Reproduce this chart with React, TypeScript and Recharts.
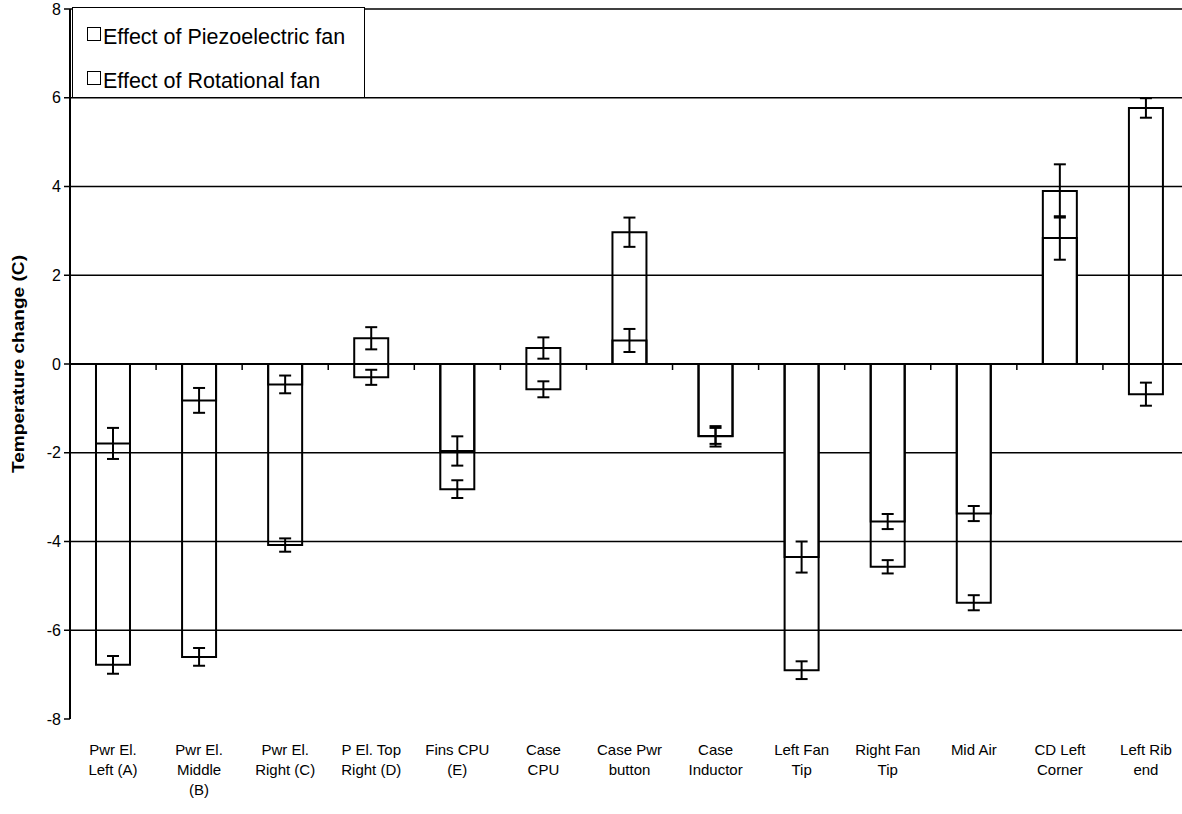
import React from 'react'
import { BarChart, Bar, XAxis, YAxis, CartesianGrid, ErrorBar, ReferenceLine, Legend } from 'recharts'

const FONT = '"Liberation Sans", Arial, Helvetica, sans-serif'

const categories = [
  'Pwr El.\nLeft (A)',
  'Pwr El.\nMiddle\n(B)',
  'Pwr El.\nRight (C)',
  'P El. Top\nRight (D)',
  'Fins CPU\n(E)',
  'Case\nCPU',
  'Case Pwr\nbutton',
  'Case\nInductor',
  'Left Fan\nTip',
  'Right Fan\nTip',
  'Mid Air',
  'CD Left\nCorner',
  'Left Rib\nend',
]

const piezoValues = [-6.78, -6.6, -4.08, 0.58, -2.82, 0.36, 2.97, -1.63, -6.9, -4.57, -5.38, 3.9, 5.77]
const piezoErrors = [0.2, 0.2, 0.15, 0.25, 0.2, 0.24, 0.33, 0.23, 0.2, 0.15, 0.17, 0.6, 0.22]
const rotationalValues = [-1.79, -0.82, -0.46, -0.3, -1.96, -0.57, 0.53, -1.62, -4.35, -3.55, -3.37, 2.84, -0.68]
const rotationalErrors = [0.35, 0.28, 0.2, 0.17, 0.33, 0.18, 0.26, 0.18, 0.35, 0.17, 0.17, 0.49, 0.26]

const seriesNames = ['Effect of Piezoelectric fan', 'Effect of Rotational fan']
const yTicks = [-8, -6, -4, -2, 0, 2, 4, 6, 8]
const gridValues = [-6, -4, -2, 2, 4, 6, 8]

const data = categories.map((name, i) => ({
  name,
  piezo: piezoValues[i],
  piezoErr: piezoErrors[i],
  rot: rotationalValues[i],
  rotErr: rotationalErrors[i],
}))

function CategoryTick({ x, y, payload }: any) {
  const lines = String(payload.value).split('\n')
  return (
    <text x={x} y={y} textAnchor="middle" fontSize={15} fontFamily={FONT} fill="#000">
      {lines.map((l, i) => (
        <tspan key={i} x={x} dy={i === 0 ? 36 : 20}>{l}</tspan>
      ))}
    </text>
  )
}

function ValueTick({ x, y, payload }: any) {
  return (
    <text x={x} y={y} textAnchor="end" dominantBaseline="central" fontSize={16} fontFamily={FONT} fill="#000">
      {payload.value}
    </text>
  )
}

// zero line acts as the category axis, with ticks between categories
function ZeroAxis(props: any) {
  const { x1, y1, x2 } = props
  const step = (x2 - x1) / categories.length
  return (
    <g>
      <line x1={x1} y1={y1} x2={x2} y2={y1} stroke="#000" strokeWidth={2} />
      {categories.slice(1).map((_, i) => {
        const x = x1 + step * (i + 1)
        return <line key={i} x1={x} x2={x} y1={y1} y2={y1 + 6} stroke="#000" strokeWidth={1.5} />
      })}
    </g>
  )
}

function YTitle({ viewBox }: any) {
  const cx = viewBox.x + 18
  const cy = viewBox.y + viewBox.height / 2
  return (
    <text x={cx} y={cy} transform={`rotate(-90 ${cx} ${cy})`} textAnchor="middle"
      dominantBaseline="central" fontSize={16} fontWeight="bold" fontFamily={FONT} fill="#000"
      textLength={218} lengthAdjust="spacingAndGlyphs">
      Temperature change (C)
    </text>
  )
}

function LegendBox() {
  return (
    <div style={{
      width: 293, height: 91, boxSizing: 'border-box', border: '1.5px solid #000',
      background: '#fff', fontFamily: FONT, fontSize: 21.5, color: '#000', paddingTop: 7, paddingLeft: 14,
    }}>
      {seriesNames.map(n => (
        <div key={n} style={{ display: 'flex', alignItems: 'center', height: 44, whiteSpace: 'nowrap' }}>
          <span style={{ width: 14, height: 14, flex: 'none', boxSizing: 'border-box', border: '1.5px solid #000', marginRight: 2, marginTop: -6 }} />
          <span>{n}</span>
        </div>
      ))}
    </div>
  )
}

export default function App() {
  return (
    <div style={{ position: 'absolute', left: 0, top: 0, width: 1182, height: 814, overflow: 'hidden', background: '#fff' }}>
      <BarChart width={1189} height={814} data={data} barCategoryGap="30.2%"
        margin={{ top: 9, right: 0, bottom: 0, left: 0 }}>
        <CartesianGrid xAxisId="a" horizontalValues={gridValues} vertical={false} stroke="#000" strokeWidth={1.5} />
        <XAxis xAxisId="a" dataKey="name" interval={0} height={95} axisLine={false} tickLine={false}
          tickSize={0} tickMargin={0} tick={<CategoryTick />} />
        <XAxis xAxisId="b" dataKey="name" hide />
        <YAxis domain={[-8, 8]} ticks={yTicks} interval={0} width={70} allowDataOverflow
          axisLine={{ stroke: '#000', strokeWidth: 2 }} tickLine={{ stroke: '#000', strokeWidth: 1.5 }}
          tickSize={6} tickMargin={3} tick={<ValueTick />}
          label={<YTitle />} />
        <Legend layout="vertical" align="center" verticalAlign="middle" content={<LegendBox />}
          wrapperStyle={{ left: 72, top: 7, width: 293, height: 91 }} />
        <Bar xAxisId="b" dataKey="rot" name={seriesNames[1]} fill="#fff" stroke="#000" strokeWidth={2}
          isAnimationActive={false}>
          <ErrorBar dataKey="rotErr" width={6} stroke="#000" strokeWidth={2} />
        </Bar>
        <Bar xAxisId="a" dataKey="piezo" name={seriesNames[0]} fill="none" stroke="#000" strokeWidth={2}
          isAnimationActive={false}>
          <ErrorBar dataKey="piezoErr" width={6} stroke="#000" strokeWidth={2} />
        </Bar>
        <ReferenceLine xAxisId="a" y={0} shape={<ZeroAxis />} />
      </BarChart>
    </div>
  )
}
